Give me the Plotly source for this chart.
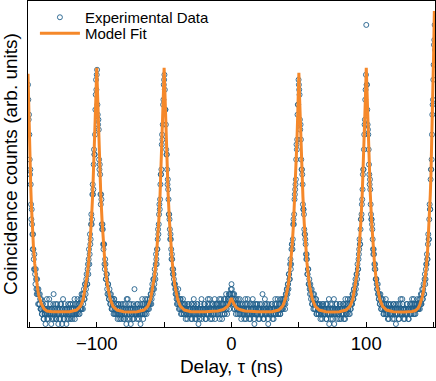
import numpy as np
import plotly.graph_objects as go

# Experimental data: coincidence counts on two interleaved 0.5 ns delay grids
grid_a_start = -151.0
grid_b_start = -150.75
delay_step = 0.5
counts_a = [
    48, 41, 38, 30, 28, 21, 20, 15, 15, 11, 11, 8, 9, 6, 7, 4, 6, 4, 5, 3,
    3, 2, 4, 1, 3, 2, 0, 3, 5, 2, 1, 3, 2, 4, 2, 3, 1, 2, 6, 3,
    2, 4, 1, 3, 2, 0, 2, 3, 1, 4, 3, 2, 5, 1, 2, 3, 2, 0, 3, 2,
    3, 1, 2, 4, 2, 3, 1, 2, 3, 5, 2, 3, 2, 4, 3, 2, 4, 3, 5, 3,
    3, 6, 4, 7, 5, 8, 7, 10, 8, 12, 13, 12, 18, 17, 22, 21, 28, 27, 35, 34,
    43, 49, 50, 44, 40, 39, 31, 30, 24, 25, 19, 19, 15, 16, 11, 12, 9, 10, 6, 8,
    5, 7, 4, 6, 3, 5, 4, 2, 5, 3, 2, 4, 3, 1, 4, 2, 3, 2, 1, 3,
    2, 4, 3, 1, 2, 3, 0, 2, 5, 3, 2, 1, 3, 4, 2, 2, 3, 1, 7, 2,
    3, 2, 1, 4, 2, 3, 2, 0, 3, 2, 4, 1, 3, 2, 5, 3, 2, 4, 3, 4,
    4, 5, 6, 4, 7, 6, 9, 7, 11, 9, 14, 12, 15, 19, 20, 24, 25, 30, 31, 38,
    40, 45, 49, 47, 43, 35, 34, 28, 27, 22, 21, 17, 17, 13, 13, 10, 10, 8, 8, 6,
    6, 4, 5, 7, 3, 4, 5, 2, 4, 3, 5, 2, 3, 4, 1, 3, 2, 4, 2, 3,
    2, 3, 1, 4, 2, 3, 5, 2, 1, 3, 2, 4, 3, 0, 2, 3, 4, 2, 1, 3,
    3, 2, 4, 3, 1, 2, 3, 5, 2, 3, 4, 2, 3, 1, 4, 3, 2, 5, 3, 2,
    3, 4, 2, 3, 5, 2, 4, 3, 1, 4, 3, 5, 2, 4, 6, 3, 4, 5, 6, 4,
    5, 7, 8, 6, 5, 4, 6, 3, 4, 5, 3, 2, 4, 3, 5, 2, 3, 4, 2, 3,
    3, 1, 4, 2, 3, 2, 5, 3, 2, 4, 1, 3, 2, 3, 4, 2, 0, 3, 2, 4,
    2, 3, 1, 3, 4, 2, 3, 2, 6, 3, 1, 2, 4, 3, 2, 3, 1, 4, 2, 3,
    3, 2, 4, 1, 3, 2, 3, 5, 2, 4, 3, 2, 3, 4, 2, 5, 3, 3, 4, 5,
    4, 5, 4, 6, 7, 6, 8, 10, 9, 12, 11, 15, 16, 17, 21, 22, 26, 28, 33, 35,
    42, 44, 48, 46, 39, 37, 31, 30, 24, 23, 19, 18, 16, 13, 13, 10, 11, 8, 7, 8,
    5, 7, 4, 6, 5, 3, 4, 5, 2, 4, 3, 2, 4, 3, 1, 3, 2, 3, 4, 2,
    3, 2, 4, 1, 3, 2, 3, 0, 2, 4, 3, 2, 1, 3, 5, 2, 3, 2, 4, 3,
    2, 3, 1, 4, 3, 2, 3, 2, 4, 1, 3, 5, 2, 3, 4, 3, 2, 4, 5, 3,
    5, 4, 6, 5, 7, 6, 9, 8, 10, 12, 11, 14, 17, 16, 21, 22, 25, 30, 31, 38,
    41, 47, 60, 48, 40, 38, 32, 28, 27, 22, 21, 19, 15, 15, 12, 12, 9, 9, 7, 8,
    6, 5, 4, 6, 3, 5, 4, 3, 2, 4, 3, 5, 2, 3, 1, 3, 4, 2, 3, 2,
    3, 1, 2, 4, 3, 2, 0, 3, 2, 4, 1, 3, 2, 5, 3, 2, 4, 2, 3, 1,
    2, 3, 4, 2, 3, 1, 3, 4, 2, 3, 5, 3, 2, 4, 3, 2, 4, 3, 5, 3,
    3, 5, 4, 6, 4, 7, 5, 8, 6, 10, 9, 12, 14, 13, 18, 17, 24, 23, 31, 33,
    42, 45, 52, 57, 55,
]
counts_b = [
    45, 42, 33, 31, 24, 23, 18, 18, 13, 14, 10, 11, 7, 9, 6, 7, 4, 6, 3, 5,
    2, 4, 3, 1, 2, 3, 4, 2, 1, 3, 2, 5, 3, 2, 0, 3, 2, 4, 1, 2,
    3, 1, 2, 4, 3, 2, 1, 3, 4, 2, 0, 3, 2, 1, 4, 3, 2, 3, 1, 4,
    2, 3, 4, 1, 3, 2, 4, 3, 2, 1, 4, 3, 2, 5, 3, 4, 2, 3, 4, 6,
    5, 3, 6, 5, 8, 6, 9, 8, 11, 10, 15, 14, 16, 20, 20, 26, 26, 32, 34, 38,
    46, 47, 51, 42, 41, 33, 32, 26, 26, 20, 20, 16, 16, 12, 13, 9, 10, 7, 8, 6,
    5, 6, 4, 5, 3, 4, 3, 5, 2, 3, 4, 2, 3, 2, 4, 1, 3, 2, 4, 2,
    3, 1, 2, 4, 2, 3, 5, 1, 3, 2, 4, 3, 0, 2, 3, 1, 4, 2, 3, 2,
    2, 4, 3, 2, 1, 3, 4, 2, 3, 5, 2, 3, 4, 2, 3, 4, 3, 5, 4, 3,
    5, 4, 6, 5, 8, 7, 9, 8, 10, 12, 13, 15, 17, 18, 22, 23, 28, 30, 36, 37,
    44, 48, 50, 43, 40, 34, 31, 29, 25, 22, 19, 18, 15, 14, 11, 11, 9, 8, 7, 7,
    5, 6, 4, 5, 4, 3, 5, 3, 2, 4, 3, 2, 4, 3, 2, 3, 1, 3, 4, 2,
    3, 2, 4, 1, 3, 2, 4, 3, 2, 1, 3, 4, 2, 3, 1, 2, 3, 5, 2, 3,
    2, 4, 3, 1, 3, 2, 4, 2, 3, 5, 1, 3, 2, 4, 3, 2, 3, 1, 4, 3,
    4, 2, 3, 4, 1, 3, 5, 3, 2, 4, 3, 2, 5, 3, 4, 2, 5, 4, 3, 6,
    6, 5, 7, 4, 6, 3, 5, 4, 2, 4, 3, 5, 3, 2, 4, 3, 1, 3, 4, 2,
    2, 3, 5, 1, 3, 4, 2, 3, 1, 2, 4, 3, 2, 5, 3, 1, 2, 4, 3, 2,
    4, 2, 3, 1, 3, 2, 4, 2, 3, 1, 3, 5, 2, 3, 4, 2, 0, 3, 2, 3,
    2, 4, 3, 2, 1, 3, 4, 2, 3, 3, 5, 2, 4, 3, 2, 4, 3, 5, 3, 4,
    5, 3, 6, 5, 7, 8, 7, 10, 9, 13, 12, 16, 15, 20, 20, 25, 27, 29, 36, 37,
    44, 49, 47, 41, 40, 33, 31, 28, 23, 22, 18, 17, 14, 14, 10, 11, 8, 9, 6, 7,
    6, 4, 5, 3, 6, 4, 3, 5, 2, 4, 3, 2, 3, 4, 2, 3, 1, 4, 2, 3,
    2, 3, 1, 4, 2, 3, 5, 2, 3, 1, 2, 4, 3, 2, 0, 3, 2, 4, 3, 1,
    3, 2, 4, 3, 1, 2, 3, 4, 2, 3, 1, 4, 3, 2, 5, 3, 4, 2, 3, 4,
    4, 6, 5, 7, 6, 8, 7, 10, 9, 11, 13, 15, 16, 19, 21, 24, 27, 31, 35, 40,
    45, 50, 48, 43, 39, 35, 30, 29, 24, 21, 20, 17, 14, 14, 11, 11, 9, 8, 7, 6,
    5, 6, 4, 5, 3, 4, 5, 2, 4, 3, 2, 4, 3, 2, 4, 1, 3, 2, 4, 3,
    2, 3, 4, 1, 3, 2, 4, 3, 2, 3, 1, 4, 2, 3, 2, 5, 3, 1, 3, 2,
    3, 2, 4, 3, 1, 3, 2, 4, 3, 2, 4, 3, 5, 2, 4, 3, 3, 4, 3, 4,
    4, 3, 5, 4, 6, 5, 7, 6, 9, 8, 11, 12, 13, 16, 17, 21, 23, 29, 31, 38,
    44, 49, 56, 60,
]

# Model fit curve (delay in ns, counts)
fit_delay = [
    -151, -150.5, -150, -149.5, -149, -148.5, -148, -147.5, -147, -146, -145, -144, -143, -142, -141, -139, -137, -133,
    -125, -120, -115, -112, -110, -108, -107, -106, -105, -104, -103, -102.5, -102, -101.5, -101, -100.5,
    -100, -99.5, -99, -98.5, -98, -97.5, -97, -96, -95, -94, -93, -92, -90, -88, -85, -80, -75,
    -70, -65, -62, -60, -58, -57, -56, -55, -54, -53, -52.5, -52, -51.5, -51, -50.5,
    -50, -49.5, -49, -48.5, -48, -47.5, -47, -46, -45, -44, -43, -42, -40, -38, -35, -30, -20,
    -10, -6, -4, -3, -2, -1, -0.5, 0, 0.5, 1, 2, 3, 4, 6, 10, 20, 30,
    35, 38, 40, 42, 43, 44, 45, 46, 47, 47.5, 48, 48.5, 49, 49.5,
    50, 50.5, 51, 51.5, 52, 52.5, 53, 54, 55, 56, 57, 58, 60, 62, 65, 70, 75,
    80, 85, 88, 90, 92, 93, 94, 95, 96, 97, 97.5, 98, 98.5, 99, 99.5,
    100, 100.5, 101, 101.5, 102, 102.5, 103, 104, 105, 106, 107, 108, 110, 112, 115, 120, 128,
    134, 136.5, 138.5, 139.5, 140.5, 141.5, 142.5, 143.5, 144.5, 145.5, 146.5, 147, 147.5, 148, 148.5,
    149, 149.5, 150, 150.5, 151,
]
fit_counts = [
    50.2, 43.1, 37.3, 32.2, 27.9, 24.0, 20.8, 18.1, 15.7, 12.1, 9.3, 7.3, 5.7, 4.7, 4.0, 3.0, 2.6, 2.45,
    2.4, 2.45, 2.8, 3.6, 5.0, 7.7, 9.8, 12.5, 16.0, 20.5, 26.0, 29.4, 33.0, 37.0, 41.5, 46.5,
    51.4, 46.5, 41.5, 37.0, 33.0, 29.4, 26.0, 20.5, 16.0, 12.5, 9.8, 7.7, 5.0, 3.6, 2.8, 2.45, 2.4,
    2.45, 2.8, 3.6, 5.0, 7.7, 9.8, 12.5, 16.0, 20.5, 26.0, 29.4, 33.0, 37.0, 41.5, 46.5,
    51.4, 46.5, 41.5, 37.0, 33.0, 29.4, 26.0, 20.5, 16.0, 12.5, 9.8, 7.7, 5.0, 3.6, 2.8, 2.45, 2.45,
    2.6, 2.9, 3.2, 3.5, 3.9, 4.4, 4.8, 5.2, 4.8, 4.4, 3.9, 3.5, 3.2, 2.9, 2.6, 2.45, 2.45,
    2.8, 3.6, 5.0, 7.6, 9.7, 12.3, 15.7, 20.1, 25.5, 28.9, 32.4, 36.3, 40.7, 45.6,
    50.4, 45.6, 40.7, 36.3, 32.4, 28.9, 25.5, 20.1, 15.7, 12.3, 9.7, 7.6, 5.0, 3.6, 2.8, 2.45, 2.4,
    2.45, 2.8, 3.6, 5.0, 7.7, 9.8, 12.5, 16.0, 20.5, 26.0, 29.4, 33.0, 37.0, 41.5, 46.5,
    51.4, 46.5, 41.5, 37.0, 33.0, 29.4, 26.0, 20.5, 16.0, 12.5, 9.8, 7.7, 5.0, 3.6, 2.8, 2.45, 2.4,
    2.5, 2.7, 3.2, 3.7, 4.4, 5.4, 6.7, 8.6, 11.2, 14.7, 19.4, 22.4, 25.9, 29.9, 34.9,
    40.4, 46.9, 54.4, 62.8, 54.4,
]

x_tick_values = [-150, -100, -50, 0, 50, 100, 150]
x_tick_labels = ["", "\u2212100", "", "0", "", "100", ""]

delay_a = grid_a_start + delay_step * np.arange(len(counts_a))
delay_b = grid_b_start + delay_step * np.arange(len(counts_b))
delay = np.concatenate([delay_a, delay_b])
counts = np.concatenate([counts_a, counts_b])

BLUE = "#1f5f8b"
ORANGE = "#f5882a"
FONT = "Liberation Sans, Arial, sans-serif"

fig = go.Figure()
fig.add_trace(go.Scatter(
    x=delay, y=counts, mode="markers", name="Experimental Data",
    legend="legend", showlegend=True,
    marker=dict(symbol="circle-open", size=5, color=BLUE, line=dict(width=0.9, color=BLUE)),
))
fig.add_trace(go.Scatter(
    x=fit_delay, y=fit_counts, mode="lines", name="Model Fit",
    legend="legend2", showlegend=True,
    line=dict(color=ORANGE, width=3),
))

legend_style = dict(xanchor="left", yanchor="top", bgcolor="rgba(0,0,0,0)",
                    font=dict(size=15, family=FONT, color="black"), itemwidth=40,
                    visible=True)
fig.update_layout(
    width=436, height=381,
    margin=dict(l=28, r=1, t=1, b=54),
    plot_bgcolor="white", paper_bgcolor="white",
    showlegend=True,
    font=dict(family=FONT, size=18, color="black"),
    legend=dict(x=0.017, y=1.0, **legend_style),
    legend2=dict(x=0.017, y=0.951, **legend_style),
)
fig.update_xaxes(
    range=[-151, 151], showgrid=False, zeroline=False,
    showline=True, linecolor="black", linewidth=1, mirror=True,
    ticks="inside", ticklen=5, tickcolor="black", tickwidth=1,
    tickvals=x_tick_values, ticktext=x_tick_labels,
    tickfont=dict(size=18.5, family=FONT),
    title=dict(text="Delay, \u03c4 (ns)", font=dict(size=19, family=FONT), standoff=6),
    automargin=False,
)
fig.update_yaxes(
    range=[-0.6, 64.8], showgrid=False, zeroline=False,
    showline=True, linecolor="black", linewidth=1, mirror=True,
    ticks="", showticklabels=False,
    title=dict(text="Coincidence counts (arb. units)", font=dict(size=19, family=FONT), standoff=4),
    automargin=False,
)

fig.write_html("out.html", config={"displayModeBar": False},
               post_script="document.body.style.margin='0px';")
